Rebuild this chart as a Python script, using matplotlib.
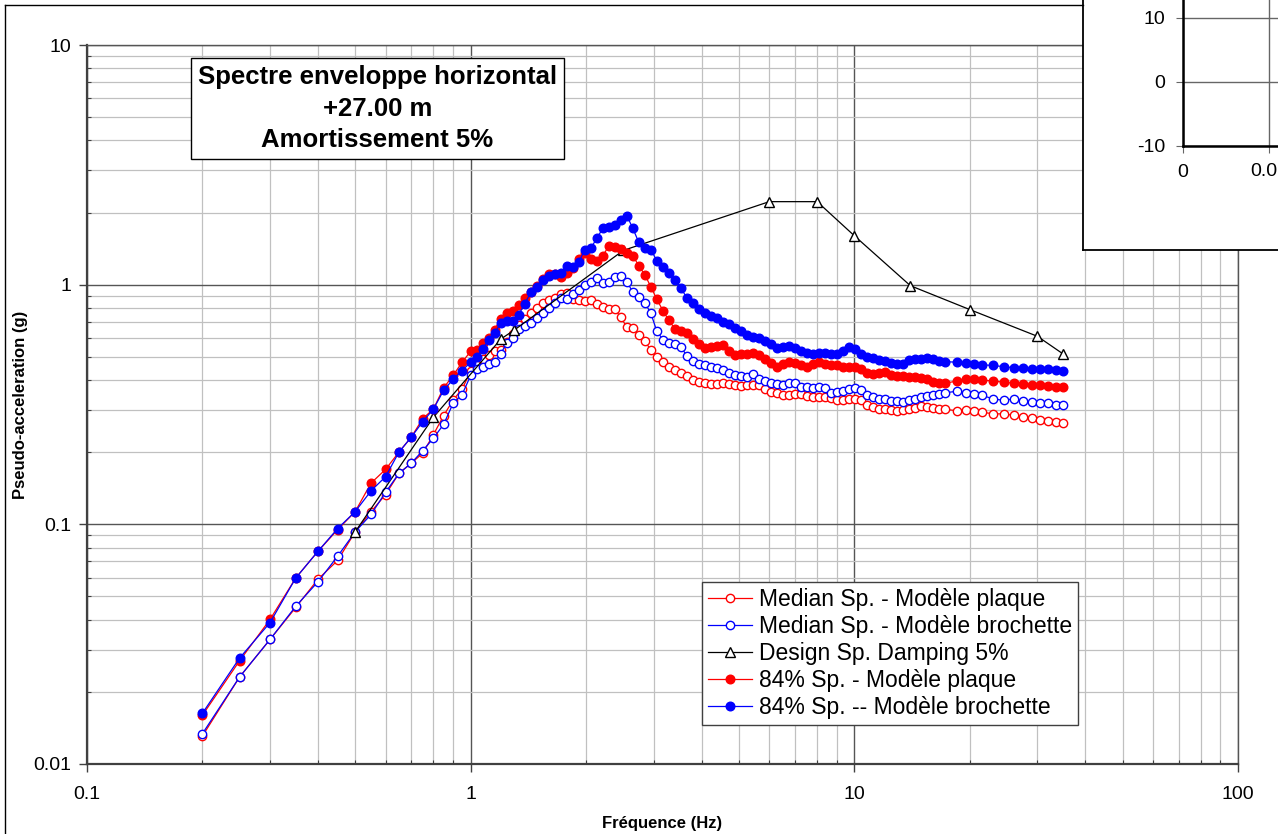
import matplotlib
matplotlib.use('Agg')
import matplotlib.pyplot as plt
from matplotlib.lines import Line2D
from matplotlib.ticker import NullFormatter, FuncFormatter

plt.rcParams['font.family'] = ['Liberation Sans', 'DejaVu Sans']
plt.rcParams['axes.unicode_minus'] = False

# frequencies (Hz)
freq = [0.20, 0.25, 0.30, 0.35, 0.40, 0.45, 0.50, 0.55, 0.60, 0.65, 0.70, 0.75, 0.80, 0.85, 0.90, 0.95,
        1.000, 1.037, 1.075, 1.114, 1.155, 1.197, 1.241, 1.287, 1.334, 1.383,
        1.434, 1.487, 1.541, 1.598, 1.656, 1.717, 1.780, 1.846, 1.913, 1.984,
        2.056, 2.132, 2.210, 2.291, 2.375, 2.462, 2.553, 2.646, 2.743, 2.844,
        2.948, 3.056, 3.169, 3.285, 3.405, 3.530, 3.660, 3.794, 3.933, 4.077,
        4.227, 4.382, 4.543, 4.709, 4.882, 5.061, 5.247, 5.439, 5.639, 5.846,
        6.060, 6.282, 6.513, 6.752, 6.999, 7.256, 7.522, 7.798, 8.084, 8.381,
        8.688, 9.007, 9.337, 9.680, 10.03, 10.40, 10.78, 11.18, 11.59, 12.02,
        12.46, 12.91, 13.39, 13.88, 14.39, 14.91, 15.46, 16.03, 16.62, 17.23,
        18.5, 19.5, 20.5, 21.5, 23.0, 24.5, 26.0, 27.5, 29.0, 30.5, 32.0, 33.5, 35.0]

# median spectrum - plaque
med_plaque = [0.0131, 0.0231, 0.0331, 0.045, 0.059, 0.0707, 0.093, 0.113, 0.133, 0.163, 0.18, 0.198, 0.237, 0.284, 0.33, 0.367,
              0.435, 0.46, 0.49, 0.51, 0.527, 0.535, 0.575, 0.62, 0.68, 0.72,
              0.76, 0.80, 0.84, 0.865, 0.88, 0.91, 0.92, 0.87, 0.86, 0.855,
              0.86, 0.83, 0.81, 0.792, 0.79, 0.73, 0.665, 0.66, 0.615, 0.58,
              0.535, 0.50, 0.475, 0.455, 0.44, 0.43, 0.415, 0.40, 0.392, 0.388,
              0.384, 0.386, 0.39, 0.385, 0.38, 0.376, 0.383, 0.383, 0.38, 0.366,
              0.358, 0.353, 0.348, 0.345, 0.35, 0.35, 0.342, 0.34, 0.339, 0.341,
              0.335, 0.331, 0.329, 0.334, 0.334, 0.329, 0.315, 0.308, 0.303, 0.303,
              0.30, 0.298, 0.30, 0.303, 0.307, 0.311, 0.308, 0.306, 0.304, 0.302,
              0.298, 0.30, 0.297, 0.294, 0.289, 0.289, 0.285, 0.28, 0.277, 0.273, 0.27, 0.267, 0.265]

# median spectrum - brochette
med_broch = [0.0134, 0.0231, 0.0331, 0.0455, 0.0576, 0.0736, 0.093, 0.110, 0.136, 0.163, 0.18, 0.203, 0.229, 0.261, 0.32, 0.348,
             0.418, 0.445, 0.455, 0.465, 0.475, 0.514, 0.57, 0.60, 0.655, 0.675,
             0.69, 0.725, 0.76, 0.80, 0.835, 0.88, 0.875, 0.91, 0.95, 1.00,
             1.03, 1.066, 1.02, 1.03, 1.08, 1.09, 1.03, 0.93, 0.89, 0.84,
             0.76, 0.64, 0.59, 0.57, 0.565, 0.55, 0.505, 0.48, 0.467, 0.46,
             0.455, 0.45, 0.44, 0.428, 0.418, 0.414, 0.41, 0.422, 0.405, 0.398,
             0.39, 0.386, 0.383, 0.39, 0.39, 0.375, 0.373, 0.371, 0.373, 0.37,
             0.353, 0.355, 0.36, 0.368, 0.371, 0.364, 0.346, 0.34, 0.334, 0.332,
             0.328, 0.326, 0.325, 0.331, 0.334, 0.339, 0.343, 0.346, 0.351, 0.354,
             0.359, 0.353, 0.35, 0.345, 0.334, 0.329, 0.334, 0.326, 0.323, 0.322, 0.32, 0.316, 0.316]

# 84% spectrum - plaque
p84_plaque = [0.0160, 0.027, 0.0401, 0.0597, 0.0772, 0.095, 0.113, 0.1486, 0.1695, 0.20, 0.231, 0.276, 0.303, 0.371, 0.418, 0.475,
              0.527, 0.535, 0.57, 0.60, 0.65, 0.72, 0.76, 0.78, 0.82, 0.88,
              0.93, 0.99, 1.06, 1.11, 1.11, 1.08, 1.12, 1.17, 1.28, 1.36,
              1.28, 1.26, 1.32, 1.45, 1.44, 1.41, 1.36, 1.32, 1.20, 1.10,
              0.98, 0.87, 0.78, 0.71, 0.655, 0.64, 0.63, 0.595, 0.565, 0.545,
              0.55, 0.557, 0.562, 0.53, 0.51, 0.514, 0.515, 0.517, 0.51, 0.49,
              0.47, 0.455, 0.465, 0.475, 0.47, 0.46, 0.455, 0.465, 0.475, 0.468,
              0.464, 0.46, 0.455, 0.455, 0.452, 0.445, 0.43, 0.422, 0.427, 0.432,
              0.42, 0.414, 0.414, 0.411, 0.41, 0.408, 0.404, 0.394, 0.388, 0.388,
              0.396, 0.405, 0.403, 0.40, 0.396, 0.392, 0.388, 0.386, 0.383, 0.38, 0.377, 0.375, 0.374]

# 84% spectrum - brochette
p84_broch = [0.0163, 0.0277, 0.0389, 0.0597, 0.0772, 0.096, 0.113, 0.138, 0.158, 0.20, 0.231, 0.268, 0.303, 0.362, 0.403, 0.438,
             0.475, 0.50, 0.54, 0.59, 0.63, 0.69, 0.705, 0.708, 0.75, 0.83,
             0.93, 0.98, 1.05, 1.09, 1.11, 1.12, 1.20, 1.18, 1.24, 1.40,
             1.42, 1.56, 1.72, 1.74, 1.78, 1.86, 1.94, 1.72, 1.50, 1.42,
             1.40, 1.26, 1.18, 1.12, 1.05, 0.97, 0.88, 0.84, 0.79, 0.762,
             0.74, 0.725, 0.70, 0.685, 0.66, 0.64, 0.615, 0.605, 0.60, 0.58,
             0.565, 0.542, 0.55, 0.557, 0.545, 0.531, 0.52, 0.514, 0.517, 0.517,
             0.514, 0.512, 0.53, 0.548, 0.54, 0.514, 0.50, 0.495, 0.485, 0.479,
             0.472, 0.468, 0.467, 0.484, 0.488, 0.49, 0.495, 0.488, 0.48, 0.477,
             0.475, 0.47, 0.467, 0.463, 0.46, 0.455, 0.45, 0.448, 0.445, 0.445, 0.443, 0.441, 0.438]

# design spectrum, damping 5%
design_freq = [0.5, 0.8, 1.2, 1.3, 2.5, 6.0, 8.0, 10.0, 14.0, 20.0, 30.0, 35.0]
design_val = [0.093, 0.28, 0.594, 0.647, 1.39, 2.22, 2.22, 1.6, 0.99, 0.787, 0.609, 0.514]

RED = '#FF0000'
BLUE = '#0000FF'

W, H = 1278, 834
fig = plt.figure(figsize=(W / 100, H / 100), dpi=100)

ax = fig.add_axes([87 / W, 1 - 764 / H, (1238 - 87) / W, (764 - 45) / H])
ax.set_xscale('log')
ax.set_yscale('log')
ax.set_xlim(0.1, 100)
ax.set_ylim(0.01, 10)

ax.plot(freq, med_plaque, color=RED, lw=0.9, marker='o', ms=6, mfc='white', mec=RED, mew=1.0,
        label='Median Sp. - Modèle plaque', zorder=3)
ax.plot(freq, med_broch, color=BLUE, lw=0.9, marker='o', ms=6, mfc='white', mec=BLUE, mew=1.0,
        label='Median Sp. - Modèle brochette', zorder=3)
ax.plot(design_freq, design_val, color='black', lw=0.9, marker='^', ms=6.5, mfc='white', mec='black', mew=1.0,
        label='Design Sp. Damping 5%', zorder=3)
ax.plot(freq, p84_plaque, color=RED, lw=0.9, marker='o', ms=6.2, mfc=RED, mec=RED,
        label='84% Sp. - Modèle plaque', zorder=3)
ax.plot(freq, p84_broch, color=BLUE, lw=0.9, marker='o', ms=6.2, mfc=BLUE, mec=BLUE,
        label='84% Sp. -- Modèle brochette', zorder=3)

ax.grid(True, which='major', color='#555555', lw=1.0)
ax.grid(True, which='minor', color='#c0c0c0', lw=0.9)
ax.set_axisbelow(True)
for s in ['top', 'right']:
    ax.spines[s].set_color('#555555')
    ax.spines[s].set_linewidth(1.0)
for s in ['left', 'bottom']:
    ax.spines[s].set_color('#404040')
    ax.spines[s].set_linewidth(1.6)

fmt = FuncFormatter(lambda v, p: '%g' % v)
ax.xaxis.set_major_formatter(fmt)
ax.yaxis.set_major_formatter(fmt)
ax.xaxis.set_minor_formatter(NullFormatter())
ax.yaxis.set_minor_formatter(NullFormatter())
ax.tick_params(which='major', direction='out', length=6, width=1, color='#404040', labelsize=14)
ax.tick_params(axis='x', which='major', pad=10)
ax.tick_params(axis='y', which='major', pad=5)
ax.tick_params(which='minor', direction='in', length=3, width=0.8, color='#404040')

ax.set_xlabel('Fréquence (Hz)', fontsize=12, fontweight='bold', labelpad=9)
ax.set_ylabel('Pseudo-acceleration (g)', fontsize=12, fontweight='bold', labelpad=4)

ax.text(0.2524, 0.9115, 'Spectre enveloppe horizontal\n+27.00 m\nAmortissement 5%',
        transform=ax.transAxes, ha='center', va='center', fontsize=18.5, fontweight='bold',
        linespacing=1.38, zorder=5,
        bbox=dict(boxstyle='square,pad=0.27', fc='white', ec='black', lw=1.0))

leg = ax.legend(loc='upper left', bbox_to_anchor=((702 - 87) / 1151, (764 - 582) / 719),
                borderaxespad=0, fontsize=16.5, frameon=True, fancybox=False, framealpha=1,
                edgecolor='#404040', handlelength=1.9, handletextpad=0.3, labelspacing=0.17,
                borderpad=0.28)
leg.get_frame().set_linewidth(1.0)
leg.set_zorder(6)

# partial inset chart in the top-right corner
box = fig.add_axes([1083 / W, 1 - 250 / H, 220 / W, 270 / H])
box.set_xticks([])
box.set_yticks([])
for s in box.spines.values():
    s.set_color('black')
    s.set_linewidth(1.3)
box.set_facecolor('white')

ins = fig.add_axes([1183 / W, 1 - 146 / H, 215 / W, 256 / H])
ins.set_xlim(0, 0.05)
ins.set_ylim(-10, 30)
ins.set_yticks([-10, 0, 10])
ins.set_xticks([0, 0.02])
ins.set_xticklabels(['0', ''])
ins.grid(True, color='#666666', lw=1.0)
ins.set_axisbelow(True)
for s in ['top', 'right']:
    ins.spines[s].set_visible(False)
for s in ['left', 'bottom']:
    ins.spines[s].set_color('black')
    ins.spines[s].set_linewidth(1.8)
ins.tick_params(direction='out', length=5, color='#666666', labelsize=14, pad=8)
fig.text(1277 / W, 1 - 171 / H, '0.0', ha='right', va='center', fontsize=14)

# outer chart frame
fig.add_artist(Line2D([5 / W, 5 / W], [0, 1 - 5 / H], color='black', lw=1.0))
fig.add_artist(Line2D([5 / W, 1083 / W], [1 - 5 / H, 1 - 5 / H], color='black', lw=1.0))

fig.savefig('out.png', dpi=100)
